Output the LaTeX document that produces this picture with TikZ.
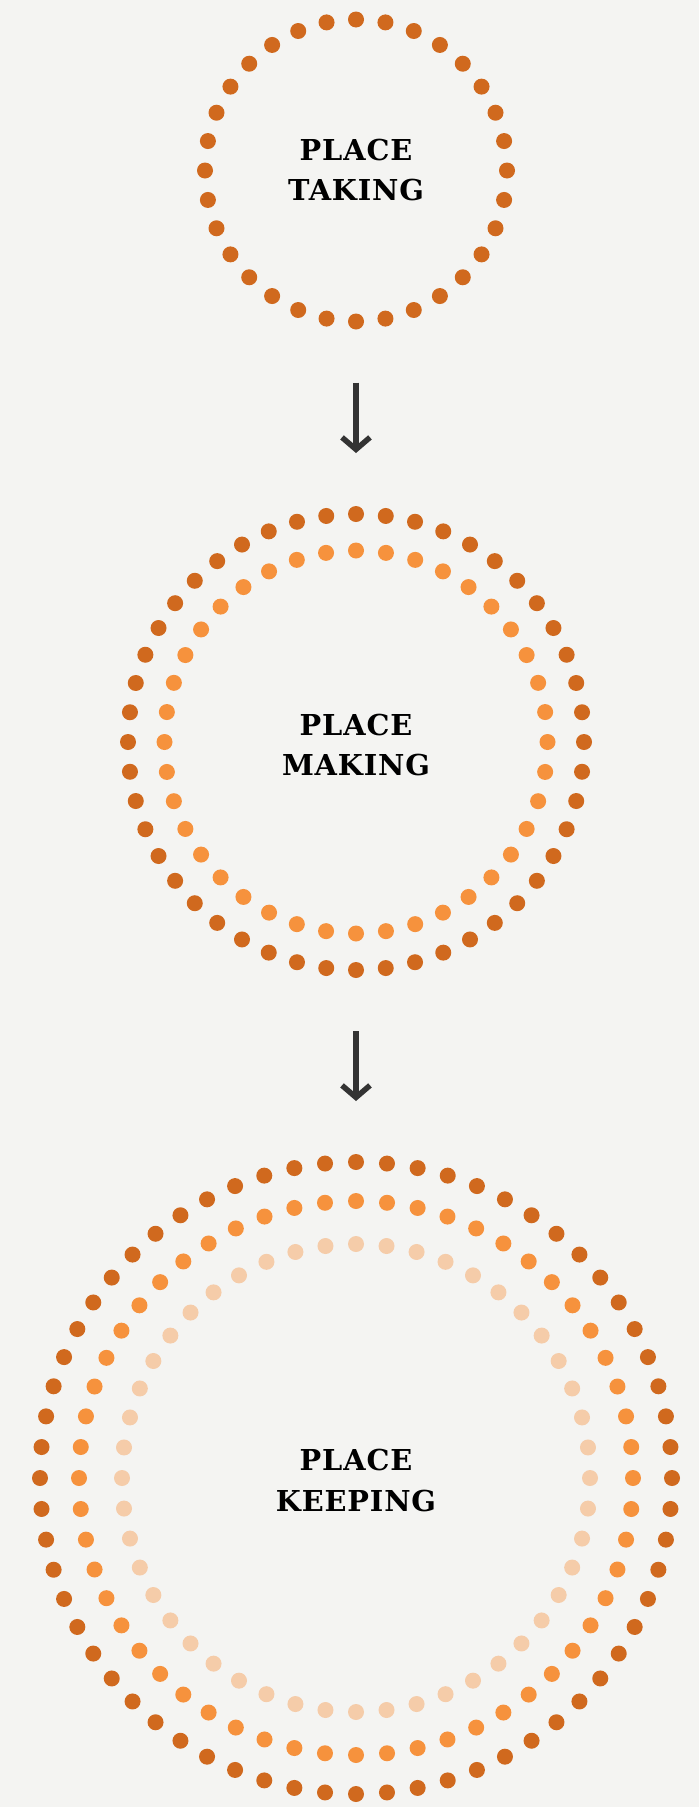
\documentclass[tikz,border=0pt]{standalone}
\usepackage{fontspec}
\setmainfont{DejaVu Serif}
\newfontfamily\labelfont[LetterSpace=3]{DejaVu Serif}
\usetikzlibrary{arrows.meta}
\definecolor{bg}{HTML}{F4F4F2}
\definecolor{dotdark}{HTML}{D0691E}
\definecolor{dotmid}{HTML}{F6923D}
\definecolor{dotlight}{HTML}{F5CCA9}
\definecolor{arrowgray}{HTML}{333333}
\newcommand\dotring[4]{%
  \foreach \k in {1,...,#2}{%
    \fill[#4] ([shift={({360/#2*\k}:#3pt)}]#1.center) circle[radius=8pt];}}
\begin{document}
\begin{tikzpicture}[x=1pt,y=-1pt,
  ring/.style={circle, inner sep=0pt, outer sep=0pt},
  lbl/.style={font=\labelfont\bfseries\fontsize{28.8pt}{34pt}\selectfont, text=black, inner sep=0pt, anchor=base},
  flow/.style={draw=arrowgray, line width=5.5pt, -{Straight Barb[length=12pt,width=28pt]}},
  darkdots/.style={fill=dotdark},
  middots/.style={fill=dotmid},
  lightdots/.style={fill=dotlight}]
\fill[bg] (0,0) rectangle (699,1807);
\useasboundingbox (0,0) rectangle (699,1807);

% circles
\node[ring, minimum size=318pt] (taking) at (356,170.5) {};
\node[ring, minimum size=472pt] (making) at (356,742) {};
\node[ring, minimum size=648pt] (keeping) at (356,1478) {};

\dotring{taking}{32}{151}{darkdots}
\dotring{making}{48}{228}{darkdots}
\dotring{making}{40}{191.5}{middots}
\dotring{keeping}{64}{316}{darkdots}
\dotring{keeping}{56}{277}{middots}
\dotring{keeping}{48}{234}{lightdots}

% labels
\node[lbl] (t1) at (356,160.7) {PLACE};
\node[lbl] (t2) at (356,200.7) {TAKING};
\node[lbl] (m1) at (356,735) {PLACE};
\node[lbl] (m2) at (356,775) {MAKING};
\node[lbl] (k1) at (356,1470.5) {PLACE};
\node[lbl] (k2) at (356,1511) {KEEPING};

% arrows
\draw[flow] ([yshift=-53pt]taking.south) -- ([yshift=53pt]making.north);
\draw[flow] ([yshift=-53pt]making.south) -- ([yshift=53pt]keeping.north);
\end{tikzpicture}
\end{document}
